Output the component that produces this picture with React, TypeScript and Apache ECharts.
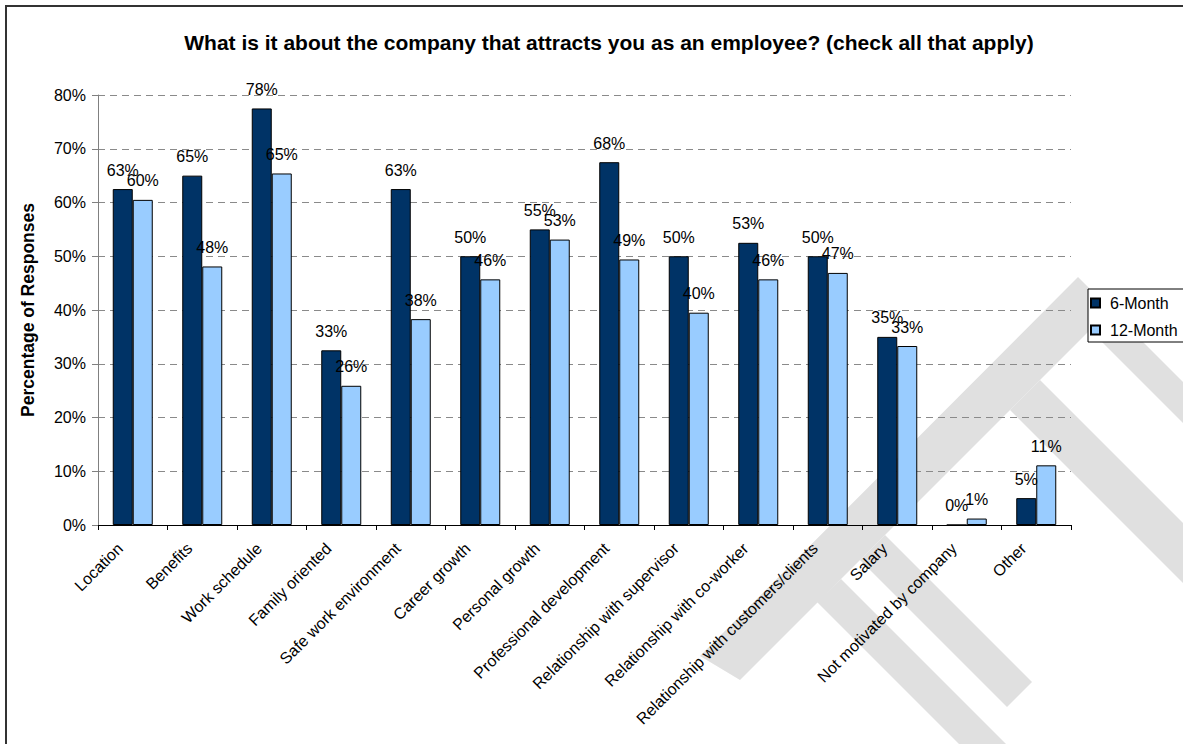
import React, { useEffect, useRef } from "react";
import * as echarts from "echarts";

const categories = [
  "Location",
  "Benefits",
  "Work schedule",
  "Family oriented",
  "Safe work environment",
  "Career growth",
  "Personal growth",
  "Professional development",
  "Relationship with supervisor",
  "Relationship with co-worker",
  "Relationship with customers/clients",
  "Salary",
  "Not motivated by company",
  "Other",
];
const sixMonth = [62.5, 65, 77.5, 32.5, 62.5, 50, 55, 67.5, 50, 52.5, 50, 35, 0, 5];
const twelveMonth = [60.49, 48.1, 65.4, 25.9, 38.3, 45.7, 53.1, 49.4, 39.5, 45.7, 46.9, 33.3, 1.2, 11.1];
const seriesNames = ["6-Month", "12-Month"];
const yTicks = { min: 0, max: 80, interval: 10 };

const FONT = "'Liberation Sans', Arial, Helvetica, sans-serif";
const WM = "#e0e0e0";

export default function App() {
  const ref = useRef<HTMLDivElement>(null);
  useEffect(() => {
    if (!ref.current) return;
    const chart = echarts.init(ref.current, null, { renderer: "svg" });
    const labelCfg = {
      show: true,
      position: "top",
      distance: 11,
      color: "#000",
      fontSize: 16,
      fontFamily: FONT,
      formatter: (p: any) => Math.round(p.value) + "%",
    };
    chart.setOption({
      animation: false,
      backgroundColor: "#fff",
      textStyle: { fontFamily: FONT },
      title: {
        text: "What is it about the company that attracts you as an employee? (check all that apply)",
        left: 604,
        top: 27,
        textAlign: "center",
        textStyle: { fontSize: 21, fontWeight: "bold", color: "#000", fontFamily: FONT },
      },
      legend: {
        orient: "vertical",
        left: 1088,
        top: 289,
        width: 94,
        padding: [6, 12, 4, 2],
        itemGap: 11,
        itemWidth: 9,
        itemHeight: 9,
        icon: "rect",
        borderColor: "#000",
        borderWidth: 1,
        backgroundColor: "#fff",
        textStyle: { fontSize: 16, color: "#000", fontFamily: FONT, padding: [0, 0, 0, 5] },
        data: seriesNames,
      },
      grid: { left: 98, right: 112, top: 95, bottom: 219, containLabel: false },
      xAxis: {
        type: "category",
        data: categories,
        axisLine: { show: true, lineStyle: { color: "#000", width: 1 } },
        axisTick: { show: true, length: 5, lineStyle: { color: "#000" } },
        axisLabel: {
          interval: 0,
          rotate: 45,
          margin: 8,
          padding: [0, 18, 0, 0],
          fontSize: 16,
          color: "#000",
          fontFamily: FONT,
        },
        splitLine: { show: false },
      },
      yAxis: {
        type: "value",
        min: yTicks.min,
        max: yTicks.max,
        interval: yTicks.interval,
        name: "Percentage of Responses",
        nameLocation: "middle",
        nameRotate: 90,
        nameGap: 61,
        nameTextStyle: { fontSize: 17.5, fontWeight: "bold", color: "#000", fontFamily: FONT },
        axisLine: { show: true, lineStyle: { color: "#808080", width: 1 } },
        axisTick: { show: true, length: 6, lineStyle: { color: "#808080" } },
        axisLabel: {
          formatter: "{value}%",
          fontSize: 16,
          color: "#000",
          margin: 12,
          fontFamily: FONT,
        },
        splitLine: { show: true, lineStyle: { color: "#8a8a8a", type: [7, 5], width: 1 } },
      },
      graphic: [
        {
          type: "polygon",
          z: -10,
          silent: true,
          shape: { points: [[1078, 277], [1195, 394], [1195, 435], [1090, 330], [740, 680], [700, 656]] },
          style: { fill: WM },
        },
        {
          type: "polygon",
          z: -10,
          silent: true,
          shape: { points: [[1040, 380], [1195, 535], [1195, 595], [1010, 410]] },
          style: { fill: WM },
        },
        {
          type: "polygon",
          z: -10,
          silent: true,
          shape: { points: [[817, 602], [841, 579], [1010, 748], [963, 748]] },
          style: { fill: WM },
        },
        {
          type: "polygon",
          z: -10,
          silent: true,
          shape: { points: [[885, 535], [1032, 682], [1007, 707], [860, 560]] },
          style: { fill: WM },
        },
        {
          type: "rect",
          z: 100,
          silent: true,
          shape: { x: 6, y: 6, width: 1200, height: 760 },
          style: { fill: "none", stroke: "#333", lineWidth: 2 },
        },
      ],
      series: [
        {
          name: seriesNames[0],
          type: "bar",
          data: sixMonth,
          barWidth: 20,
          barGap: "0%",
          itemStyle: { color: "#003366", borderColor: "#000", borderWidth: 1 },
          label: labelCfg,
        },
        {
          name: seriesNames[1],
          type: "bar",
          data: twelveMonth,
          barWidth: 20,
          barGap: "0%",
          itemStyle: { color: "#99CCFF", borderColor: "#000", borderWidth: 1 },
          label: labelCfg,
        },
      ],
    });
    return () => chart.dispose();
  }, []);
  return (
    <div
      ref={ref}
      style={{ position: "fixed", left: 0, top: 0, width: 1183, height: 744, background: "#fff" }}
    />
  );
}
